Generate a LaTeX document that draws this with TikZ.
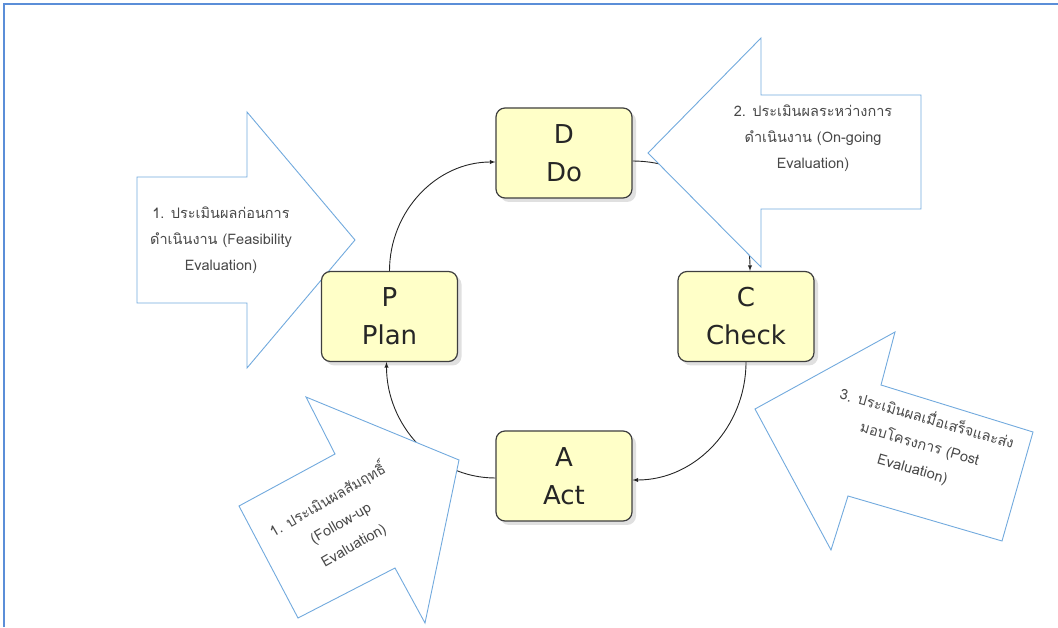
\documentclass[tikz,border=0pt]{standalone}
\usepackage{fontspec}
\setmainfont{DejaVu Sans}
\newfontfamily\thaifont[Script=Thai]{Loma}
\usetikzlibrary{arrows}
\usetikzlibrary{shadows}
\definecolor{boxfill}{HTML}{FFFFC8}
\definecolor{boxline}{HTML}{3F3F3F}
\definecolor{arrowblue}{HTML}{72AADE}
\definecolor{frameblue}{HTML}{5B8ED8}
\definecolor{labelgrey}{HTML}{484848}
\pgfdeclarelayer{curves}
\pgfdeclarelayer{blocks}
\pgfsetlayers{curves,blocks,main}
\tikzset{
  pdcabox/.style={draw=boxline, line width=1.2pt, fill=boxfill, rounded corners=9pt,
    minimum width=136pt, minimum height=90pt, align=center, text=black!85,
    font=\fontsize{26}{38}\selectfont,
    drop shadow={shadow xshift=4pt, shadow yshift=-4pt, fill=black, opacity=0.12}},
  evalarrow/.style={draw=arrowblue, line width=0.9pt, fill=white, line join=miter},
  evaltext/.style={align=center, text=labelgrey, font=\thaifont\fontsize{14.5}{26}\selectfont},
  cyclearc/.style={-latex, line width=0.9pt, black!85}
}
\begin{document}
\begin{tikzpicture}[x=1pt,y=1pt]
    \useasboundingbox (0,0) rectangle (1058,627);
    \draw[frameblue, line width=1.5pt] (4,0) -- (4,623) -- (1058,623);
    % the four phases
    \node[pdcabox] (D) at (564,474) {D\\Do};
    \node[pdcabox] (P) at (389.5,310.5) {P\\Plan};
    \node[pdcabox] (C) at (746,310.5) {C\\Check};
    \node[pdcabox] (A) at (564,151) {A\\Act};
    \begin{pgfonlayer}{curves}
      \draw[cyclearc] (P.north) to[out=90,in=180] ([yshift=-9pt]D.west);
      \draw[cyclearc] ([yshift=-8pt]D.east) to[out=0,in=90] ([xshift=4pt]C.north);
      \draw[cyclearc] (C.south) to[out=-90,in=0] ([yshift=-4pt]A.east);
      \draw[cyclearc] ([yshift=-2pt]A.west) to[out=180,in=-90] ([xshift=-3pt]P.south);
    \end{pgfonlayer}
    % evaluation arrows
    \begin{pgfonlayer}{blocks}
      \draw[evalarrow] (137,450) -- (247,450) -- (247,515) -- (355,387) -- (247,259) -- (247,324) -- (137,324) -- cycle;
      \node[evaltext] (feas) at (221,387) {1. ประเมินผลก่อนการ\\ดำเนินงาน (Feasibility\\Evaluation)};
      \draw[evalarrow] (921,532) -- (761,532) -- (761,589) -- (648,474) -- (761,360) -- (761,418) -- (921,418) -- cycle;
      \node[evaltext] (ongo) at (813,489) {2. ประเมินผลระหว่างการ\\ดำเนินงาน (On-going\\Evaluation)};
      \draw[evalarrow] (755,218) -- (895,295) -- (881,242) -- (1033,195) -- (1002,86) -- (848,131) -- (831,77) -- cycle;
      \node[evaltext, rotate=-16] (post) at (920,184) {3. ประเมินผลเมื่อเสร็จและส่ง\\มอบโครงการ (Post\\Evaluation)};
      \draw[evalarrow] (459,167) -- (306,230) -- (335,173) -- (239,121) -- (298,9) -- (395,59) -- (425,4) -- cycle;
      \node[evaltext, rotate=30] (follow) at (340,105) {1. ประเมินผลสัมฤทธิ์\\(Follow-up\\Evaluation)};
    \end{pgfonlayer}
  \end{tikzpicture}
\end{document}
